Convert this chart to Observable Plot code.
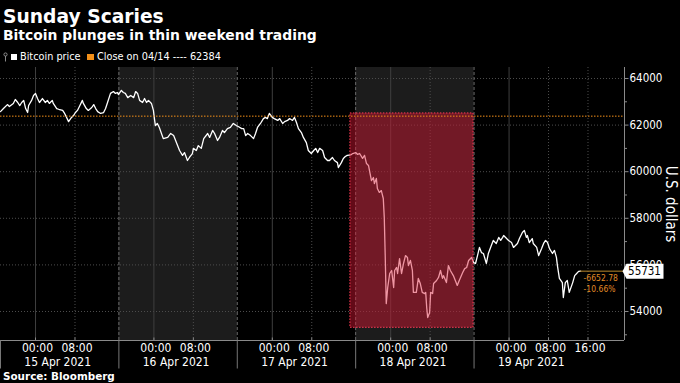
<!DOCTYPE html>
<html>
<head>
<meta charset="utf-8">
<script src="https://cdn.jsdelivr.net/npm/d3@7"></script>
<script src="https://cdn.jsdelivr.net/npm/@observablehq/plot@0.6"></script>
<style>
html, body { margin: 0; padding: 0; background: #000; }
#wrap { position: relative; width: 680px; height: 383px; overflow: hidden; background: #000; color: #fff; }
.t { position: absolute; left: 3px; white-space: nowrap; font-family: "DejaVu Sans", sans-serif; }
#title { top: 7px; font-size: 18.7px; line-height: 20px; font-weight: 700; }
#subtitle { top: 28px; font-size: 13.9px; line-height: 15px; font-weight: 700; }
#legend { position: absolute; left: 0; top: 51px; width: 400px; height: 12px; font-family: "DejaVu Sans Condensed", "Liberation Sans Narrow", "DejaVu Sans", sans-serif; font-size: 10.8px; line-height: 12px; }
#legend span { position: absolute; top: 0; white-space: nowrap; }
#legend .sw { top: 3px; width: 6px; height: 6px; }
#chart { position: absolute; left: 0; top: 62px; }
#source { top: 371px; font-size: 10.4px; line-height: 11px; font-weight: 700; }
</style>
</head>
<body>
<div id="wrap">
  <div class="t" id="title">Sunday Scaries</div>
  <div class="t" id="subtitle">Bitcoin plunges in thin weekend trading</div>
  <div id="legend">
    <svg style="position:absolute;left:3px;top:1px" width="5" height="10"><circle cx="2.5" cy="2.5" r="1.6" fill="none" stroke="#999" stroke-width="0.9"/><line x1="2.5" y1="4" x2="2.5" y2="9.5" stroke="#999" stroke-width="0.9"/></svg>
    <span class="sw" style="left:11px;background:#fff"></span>
    <span style="left:20px" id="lg1"></span>
    <span class="sw" style="left:87px;width:7px;background:#f39019"></span>
    <span style="left:97px" id="lg2"></span>
  </div>
  <div id="chart"></div>
  <div class="t" id="source">Source: Bloomberg</div>
</div>
<script>
// ---- data ----
const seriesName = "Bitcoin price";
const closeLabel = "Close on 04/14";
const closePrice = 62384;
const lastPrice = 55731;
const lastChange = -6652.78;
const lastChangePct = -10.66;

// hours since 2021-04-15 00:00
const hoursSinceApr15 = [
  -7.1, -6.5, -5.7, -5.3, -4.5, -4.1, -3.6, -3.2, -2.8, -2.4, -2.0, -1.6, -1.4, -0.8, -0.4, 0.0, 0.4, 0.8, 1.4, 2.0,
  2.4, 2.8, 3.4, 3.6, 4.3, 4.7, 5.5, 5.9, 6.3, 6.7, 7.3, 7.7, 8.1, 8.5, 8.9, 9.5, 9.7, 10.3, 10.7, 11.4,
  11.8, 12.2, 12.6, 13.2, 13.8, 14.2, 14.6, 15.2, 15.8, 16.2, 16.6, 16.8, 17.4, 17.8, 18.2, 18.7, 19.3, 19.9, 20.3, 20.7,
  21.1, 21.7, 22.1, 22.5, 22.9, 23.5, 23.9, 24.1, 24.3, 24.7, 25.1,
  25.9, 26.8, 27.4, 28.0, 28.8, 29.2, 29.8, 30.2, 30.8, 31.2, 31.8, 32.0, 32.6, 33.0, 33.6, 34.1, 34.9, 35.3, 35.9, 36.3,
  36.9, 37.3, 37.9, 38.3, 38.9, 39.5, 40.1, 40.7, 41.1, 41.8, 42.2, 42.6, 43.0, 43.6, 44.2, 44.6, 45.0, 45.6, 46.2, 46.6,
  47.0, 47.4, 48.0, 48.4, 49.1, 49.5, 50.1, 50.5, 51.1, 51.5, 52.1, 52.5, 52.9, 53.3, 53.9, 54.3, 54.9, 55.3, 55.9, 56.4,
  56.8, 57.2, 57.6, 58.2, 58.6, 59.2, 59.6, 60.2, 60.6, 61.2, 61.4, 62.0, 62.4, 62.8, 63.2, 63.9,
  64.3, 64.9, 65.3, 65.7, 66.3, 66.7, 67.1, 67.5, 68.1, 68.5, 68.7, 69.1, 69.3, 69.7, 70.1, 70.5, 70.7, 70.9, 71.1, 71.4,
  71.8, 72.2, 72.6, 72.8, 73.2, 73.4, 73.8, 74.2, 74.6, 75.0, 75.4, 75.6, 76.0, 76.4, 76.6, 77.2, 77.6, 78.0, 78.4, 78.9,
  79.1, 79.3, 79.5, 79.9, 80.1, 80.5, 80.7, 81.3, 81.7, 82.1, 82.5, 82.7, 83.3, 83.7, 84.1, 84.7, 85.1, 85.5, 85.9, 86.6,
  87.0, 87.4, 87.8, 88.4, 88.8, 89.2, 89.6, 90.0,
  90.4, 90.8, 91.4, 91.8, 92.4, 92.8, 93.4, 93.9, 94.3, 94.7, 94.9, 95.5, 95.9, 96.5, 96.9, 97.3, 97.7, 98.1, 98.7, 99.1,
  99.5, 99.7, 100.1, 100.7, 100.9, 101.6, 102.0, 102.6, 103.0, 103.4, 103.8, 104.2, 104.8, 105.2, 105.6, 105.8, 106.2, 106.8, 107.0, 107.4,
  107.8, 108.2, 108.9, 109.3, 109.7, 110.1, 110.5
];
const btcPrice = [
  62580, 62710, 62880, 62800, 62930, 63100, 62970, 62840, 62970, 63060, 62710, 62540, 62840, 63060, 63270, 63360, 63140, 62970, 63140, 62970,
  63060, 62930, 63060, 62930, 62710, 62680, 62630, 62500, 62330, 62150, 62330, 62410, 62540, 62630, 62800, 63060, 62930, 62710, 62630, 62755,
  62880, 62710, 62580, 62500, 62540, 62710, 62970, 63360, 63440, 63360, 63400, 63310, 63490, 63400, 63360, 63180, 63270, 63180, 63440, 63360,
  63060, 62970, 63140, 62970, 63060, 62930, 62630, 62280, 61980, 62070, 61900,
  61420, 61470, 61640, 61550, 61120, 60910, 60700, 60820, 60480, 60610, 60780, 61000, 60910, 61120, 61000, 61420, 61640, 61470, 61770, 61640,
  61340, 61470, 61770, 61680, 61850, 61900, 62070, 61980, 61940, 61850, 61850, 61550, 61640, 61550, 61420, 61640, 61900, 62070, 62280, 62330,
  62280, 62500, 62330, 62280, 62200, 62280, 62070, 62150, 62200, 62280, 62200, 62330, 62110, 61850, 61680, 61470, 61250, 60910, 60780, 60910,
  61000, 60820, 61000, 60910, 60610, 60480, 60480, 60610, 60480, 60390, 60180, 60390, 60570, 60650, 60700, 60720,
  60780, 60820, 60740, 60780, 60570, 60700, 60350, 60270, 59620, 59750, 59490, 59710, 59280, 59110, 59190, 58850, 58030, 56320, 54340, 55030,
  55630, 55760, 55030, 55760, 55890, 55630, 56270, 55630, 56060, 56400, 56320, 55970, 56190, 55760, 54820, 54820, 55420, 55200, 54820, 54770,
  54820, 54170, 53740, 53960, 54820, 54770, 55200, 55330, 55460, 55760, 55420, 55540, 55240, 55970, 55760, 55540, 55330, 55120, 55330, 55670,
  55840, 55890, 56190, 56320, 56100, 56060, 56400, 56750,
  56530, 56490, 56060, 56490, 56830, 57050, 56920, 57180, 57050, 57180, 57260, 57130, 57050, 56960, 56750, 56830, 56920, 57130, 57390, 57480,
  57180, 57260, 56960, 57130, 56920, 56750, 56400, 56700, 56920, 57050, 56960, 56700, 56490, 56620, 56320, 55970, 55420, 55240, 54600, 55240,
  55330, 54820, 55240, 55540, 55630, 55720, 55731
];

const shadedDays = [["2021-04-15T16:54Z", "2021-04-16T16:54Z"], ["2021-04-17T16:54Z", "2021-04-18T16:54Z"]];
const daySeparators = ["2021-04-14T16:54Z", "2021-04-15T16:54Z", "2021-04-16T16:54Z", "2021-04-17T16:54Z", "2021-04-18T16:54Z"];
const plungeWindow = ["2021-04-17T15:50Z", "2021-04-18T16:48Z"];
const plungeRange = [53300, 62500];
const hourTicks = ["2021-04-15T00:00Z", "2021-04-15T08:00Z", "2021-04-16T00:00Z", "2021-04-16T08:00Z",
  "2021-04-17T00:00Z", "2021-04-17T08:00Z", "2021-04-18T00:00Z", "2021-04-18T08:00Z",
  "2021-04-19T00:00Z", "2021-04-19T08:00Z", "2021-04-19T16:00Z"];
const dayTicks = ["2021-04-15", "2021-04-16", "2021-04-17", "2021-04-18", "2021-04-19"];
const dayLabels = ["15 Apr 2021", "16 Apr 2021", "17 Apr 2021", "18 Apr 2021", "19 Apr 2021"];
const yMajorTicks = [54000, 56000, 58000, 60000, 62000, 64000];
const yMinorTicks = [53000, 55000, 57000, 59000, 61000, 63000];
const xDomain = ["2021-04-14T16:54Z", "2021-04-19T23:24Z"];
const yDomain = [52755, 64472];
const yLabel = "U.S. dollars";

// ---- build ----
document.getElementById("lg1").textContent = seriesName;
document.getElementById("lg2").textContent = `${closeLabel} ---- ${closePrice}`;

const origin = Date.UTC(2021, 3, 15);
const data = hoursSinceApr15.map((h, i) => ({date: new Date(origin + h * 3600e3), price: btcPrice[i]}));
const last = data[data.length - 1];
const xd = xDomain.map(d => new Date(d));
const hours = hourTicks.map(d => new Date(d));
const midnights = hours.filter(d => d.getUTCHours() === 0);
const otherHours = hours.filter(d => d.getUTCHours() !== 0);
const bandEdges = shadedDays.flat().map(d => new Date(d));
const fmtHour = d3.utcFormat("%H:%M");
const dayLabelData = dayTicks.map((d, i) => ({date: new Date(new Date(d + "T00:00Z").getTime() + 4.5 * 3600e3), label: dayLabels[i]}));

const COND = '"DejaVu Sans Condensed", "Liberation Sans Narrow", "DejaVu Sans", sans-serif';

const tickRight = {draw(c) { c.moveTo(0, 0); c.lineTo(4, 0); }};
const tickRightMinor = {draw(c) { c.moveTo(0, 0); c.lineTo(2.5, 0); }};
const tickDown = {draw(c) { c.moveTo(0, 0); c.lineTo(0, 28); }};
const tickUp = {draw(c) { c.moveTo(0, 0); c.lineTo(0, -3); }};
const priceTag = {draw(c) { c.moveTo(-2, 0); c.lineTo(2, -7.5); c.lineTo(39, -7.5); c.lineTo(39, 7.5); c.lineTo(2, 7.5); c.closePath(); }};

const chart = Plot.plot({
  width: 680,
  height: 309,
  marginTop: 5,
  marginBottom: 31,
  marginLeft: 0,
  marginRight: 56,
  style: {background: "#000", color: "#fff", fontFamily: COND, fontSize: "12px", overflow: "visible"},
  x: {type: "utc", domain: xd, axis: null},
  y: {domain: yDomain, axis: null},
  marks: [
    Plot.rect(shadedDays, {x1: d => new Date(d[0]), x2: d => new Date(d[1]), y1: () => yDomain[0], y2: () => yDomain[1], fill: "#1c1c1c"}),
    Plot.ruleY(yMajorTicks, {stroke: "#4d4d4d", strokeDasharray: "1,2"}),
    Plot.ruleX(midnights, {stroke: "#3f3f3f"}),
    Plot.ruleX(otherHours, {stroke: "#4d4d4d", strokeDasharray: "1,2"}),
    Plot.ruleX(bandEdges, {stroke: "#6a6a6a", strokeDasharray: "3,2"}),
    Plot.line(data, {x: "date", y: "price", stroke: "#fff", strokeWidth: 1.3}),
    Plot.rect([plungeWindow], {x1: d => new Date(d[0]), x2: d => new Date(d[1]), y1: () => plungeRange[0], y2: () => plungeRange[1],
      fill: "#db1733", fillOpacity: 0.45, stroke: "#ff3b57", strokeDasharray: "1.5,1.5"}),
    Plot.ruleY([closePrice], {stroke: "#f39019", strokeDasharray: "1.5,1.5"}),
    Plot.ruleY([lastPrice], {x1: last.date, x2: xd[1], stroke: "#b8862b"}),
    Plot.text([`${lastChange.toFixed(2)}`], {x: () => last.date, y: () => lastPrice, dx: 3, dy: 7, text: d => d, textAnchor: "start", lineAnchor: "middle", fontSize: 8.5, fill: "#e08a26"}),
    Plot.text([`${lastChangePct.toFixed(2)}%`], {x: () => last.date, y: () => lastPrice, dx: 3, dy: 18, text: d => d, textAnchor: "start", lineAnchor: "middle", fontSize: 8.5, fill: "#e08a26"}),
    // right axis
    Plot.ruleX([xd[1]], {stroke: "#8a8a8a"}),
    Plot.dot(yMajorTicks, {y: d => d, frameAnchor: "right", symbol: tickRight, stroke: "#8a8a8a", fill: "none", strokeWidth: 1}),
    Plot.dot(yMinorTicks, {y: d => d, frameAnchor: "right", symbol: tickRightMinor, stroke: "#8a8a8a", fill: "none", strokeWidth: 1}),
    Plot.text(yMajorTicks, {y: d => d, frameAnchor: "right", dx: 5, text: d => String(d), textAnchor: "start", lineAnchor: "middle", fontSize: 11.5, fill: "#fff"}),
    Plot.text([yLabel], {frameAnchor: "right", dx: 46, rotate: 90, text: d => d, textAnchor: "middle", lineAnchor: "middle", fontSize: 15, fill: "#fff"}),
    Plot.dot([lastPrice], {y: d => d, frameAnchor: "right", symbol: priceTag, fill: "#fff", stroke: "none"}),
    Plot.text([lastPrice], {y: d => d, frameAnchor: "right", dx: 20, text: d => String(d), textAnchor: "middle", lineAnchor: "middle", fontSize: 11.5, fill: "#000"}),
    // bottom axis
    Plot.ruleY([yDomain[0]], {stroke: "#8a8a8a"}),
    Plot.dot(hours, {x: d => d, frameAnchor: "bottom", symbol: tickUp, stroke: "#8a8a8a", fill: "none", strokeWidth: 1}),
    Plot.dot(daySeparators.map(d => new Date(d)), {x: d => d, frameAnchor: "bottom", symbol: tickDown, stroke: "#777", fill: "none", strokeWidth: 1}),
    Plot.text(hours, {x: d => d, frameAnchor: "bottom", dx: 2, dy: 8, text: d => fmtHour(d), lineAnchor: "middle", fontSize: 12, fill: "#fff"}),
    Plot.text(dayLabelData, {x: "date", frameAnchor: "bottom", dy: 22, text: "label", lineAnchor: "middle", fontSize: 12, fill: "#fff"})
  ]
});
document.getElementById("chart").appendChild(chart);
</script>
</body>
</html>
